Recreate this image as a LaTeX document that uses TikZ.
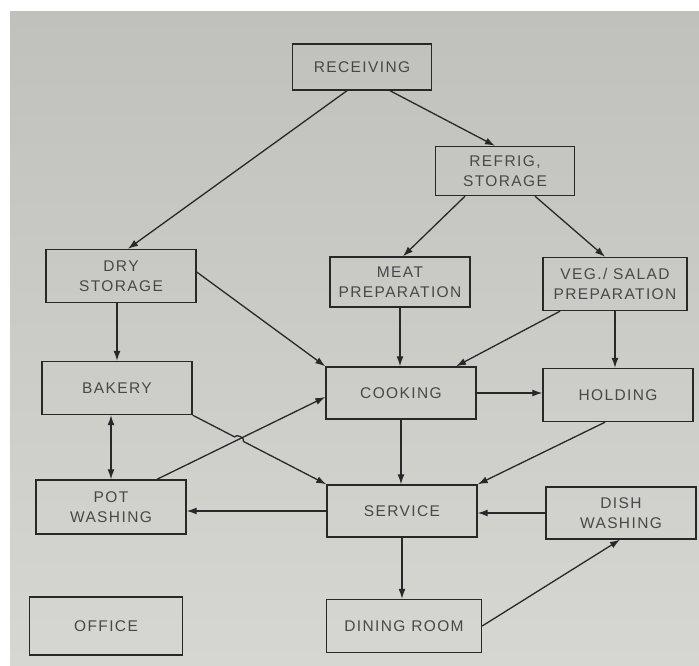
\documentclass[tikz,border=0pt]{standalone}
\usepackage{fontspec}
\setmainfont[LetterSpace=9]{Liberation Sans}
\usetikzlibrary{arrows.meta,calc,intersections}

\definecolor{paper}{RGB}{214,214,211}
\definecolor{paperdark}{RGB}{192,192,189}
\definecolor{ink}{RGB}{40,40,40}

\begin{document}
\begin{tikzpicture}[
  x=1pt, y=-1pt,
  font=\fontsize{15.5}{20}\selectfont,
  box/.style={draw=ink, line width=1.4pt, align=center, text=ink!85,
              minimum width=150pt, minimum height=53pt, inner sep=2pt},
  arr/.style={-{Latex[length=10pt,width=7pt]}, draw=ink, line width=1.3pt},
  twoarr/.style={arr, {Latex[length=10pt,width=7pt]}-{Latex[length=10pt,width=7pt]}}
]
\useasboundingbox (0,0) rectangle (699,665);
\fill[white] (0,0) rectangle (699,665);
\shade[top color=paperdark, bottom color=paper] (10,11) rectangle (699,665);

\node[box, minimum width=139pt, minimum height=46pt] (rec) at (362,67) {RECEIVING};
\node[box, minimum width=139pt, minimum height=49pt] (ref) at (505,171) {REFRIG,\\STORAGE};
\node[box] (dry) at (121,276) {DRY\\STORAGE};
\node[box, minimum width=140pt, minimum height=50pt] (meat) at (400,282) {MEAT\\PREPARATION};
\node[box, minimum width=144pt] (veg) at (615,284) {VEG./ SALAD\\PREPARATION};
\node[box] (bak) at (117,388) {BAKERY};
\node[box, minimum height=52pt] (cook) at (401,393) {COOKING};
\node[box] (hold) at (618,395) {HOLDING};
\node[box, minimum height=54pt] (pot) at (111,507) {POT\\WASHING};
\node[box, minimum height=52pt] (srv) at (402,511) {SERVICE};
\node[box, minimum height=52pt] (dish) at (621,513) {DISH\\WASHING};
\node[box, minimum width=153pt, minimum height=58pt] (off) at (106,626) {OFFICE};
\node[box, minimum width=155pt] (din) at (404,626) {DINING ROOM};

\draw[arr] ([xshift=-15pt]rec.south) -- ([xshift=7pt]dry.north);
\draw[arr] ([xshift=28pt]rec.south) -- ([xshift=-10pt]ref.north);
\draw[arr] ([xshift=-40pt]ref.south) -- ([xshift=3pt]meat.north);
\draw[arr] ([xshift=30pt]ref.south) -- ([xshift=-10pt]veg.north);
\draw[arr] (bak.north |- dry.south) -- (bak.north);
\draw[arr] ([yshift=4pt]dry.east) -- (cook.north west);
\draw[arr] (meat.south) -- (meat.south |- cook.north);
\draw[arr] ([xshift=-55pt]veg.south) -- ([xshift=55pt]cook.north);
\draw[arr] (veg.south) -- (veg.south |- hold.north);
\draw[twoarr] (pot.north |- bak.south) -- (pot.north);
% pot washing back to cooking, crossed by bakery -> service
\path[name path=bakline] (bak.south east) -- (srv.north west);
\draw[arr, name path=potline] ([xshift=46pt]pot.north) -- ([yshift=-4pt]cook.west);
\path[name intersections={of=bakline and potline, by=hop}];
\draw[arr] (bak.south east) -- ($(hop)!5pt!(bak.south east)$)
  to[bend left=90] ($(hop)!5pt!(srv.north west)$) -- (srv.north west);
\draw[arr] (cook.east) -- (cook.east -| hold.west);
\draw[arr] (cook.south) -- (cook.south |- srv.north);
\draw[arr] ([xshift=-13pt]hold.south) -- (srv.north east);
\draw[arr] (srv.west) -- (srv.west -| pot.east);
\draw[arr] (dish.west) -- (dish.west -| srv.east);
\draw[arr] (srv.south) -- (srv.south |- din.north);
\draw[arr] (din.east) -- ([xshift=-1pt]dish.south);
\end{tikzpicture}
\end{document}
